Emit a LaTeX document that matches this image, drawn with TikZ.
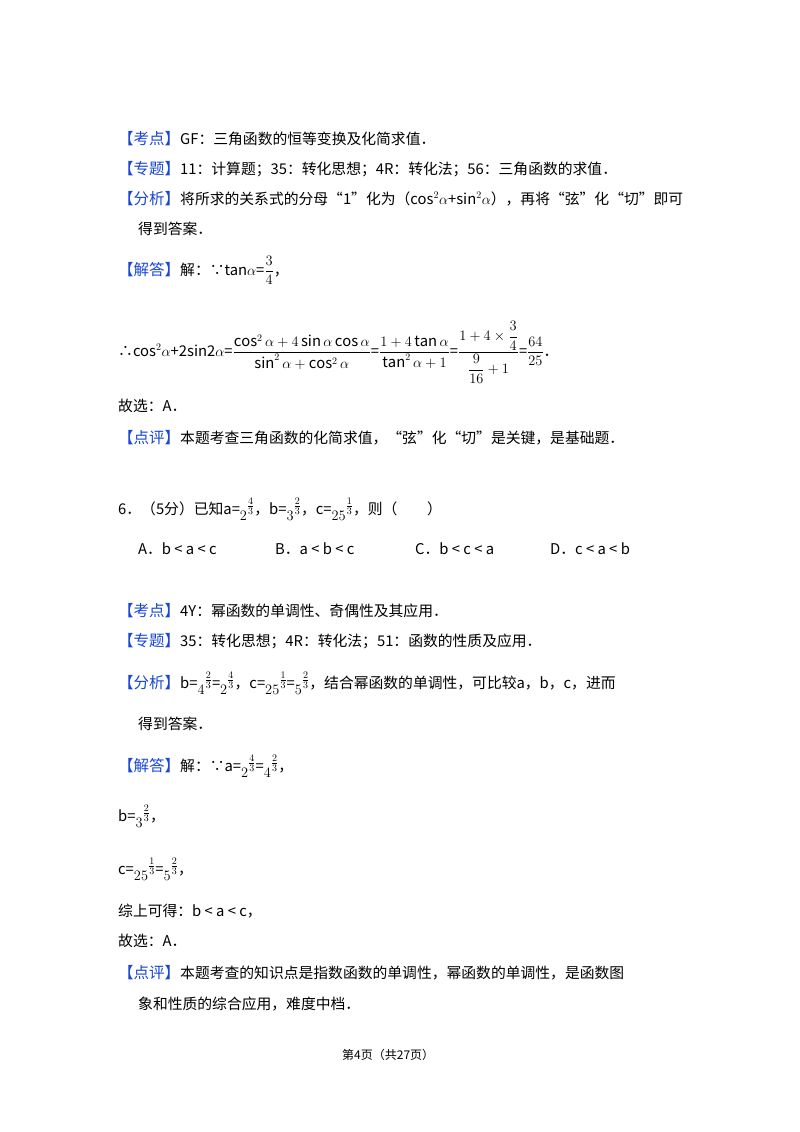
\documentclass[tikz,border=0pt]{standalone}
\usepackage{amsmath}
\usepackage{fontspec}
\setmainfont{Noto Sans CJK SC}
\definecolor{kb}{RGB}{25,70,210}
\newcommand{\tg}[1]{{\color{kb}\fontsize{15.5}{18}\selectfont【#1】}}
\newcommand{\pw}[3]{\raisebox{-6pt}{$#1$}\raisebox{4pt}{$\frac{#2}{#3}$}}
\begin{document}
\begin{tikzpicture}[x=1pt,y=1pt,t/.style={anchor=base west,inner sep=0pt,font=\fontsize{14.8}{17}\selectfont}]
\useasboundingbox (0,0) rectangle (800,-1132);
\fill[white] (0,0) rectangle (800,-1132);
\node[t] (l1) at (118,-144) {\tg{考点}GF：三角函数的恒等变换及化简求值．};
\node[t] (l2) at (118,-174) {\tg{专题}11：计算题；35：转化思想；4R：转化法；56：三角函数的求值．};
\node[t] (l3) at (118,-204) {\tg{分析}将所求的关系式的分母“1”化为（cos$^2\alpha$+sin$^2\alpha$），再将“弦”化“切”即可};
\node[t] (l4) at (138,-234) {得到答案．};
\node[t] (l5) at (118,-275) {\tg{解答}解：∵tan$\alpha$=$\dfrac{3}{4}$，};
\node[t] (l6) at (118,-356) {∴cos$^2\alpha$+2sin2$\alpha$=$\dfrac{\cos^2\alpha+4\sin\alpha\cos\alpha}{\sin^2\alpha+\cos^2\alpha}$=$\dfrac{1+4\tan\alpha}{\tan^2\alpha+1}$=$\dfrac{1+4\times\dfrac{3}{4}}{\dfrac{9}{16}+1}$=$\dfrac{64}{25}$．};
\node[t] (l7) at (118,-411) {故选：A．};
\node[t] (l8) at (118,-443) {\tg{点评}本题考查三角函数的化简求值，“弦”化“切”是关键，是基础题．};
\node[t] (q6) at (118,-514) {6．（5分）已知a=\pw{2}{4}{3}，b=\pw{3}{2}{3}，c=\pw{25}{1}{3}，则（\qquad）};
\node[t] (oA) at (138,-554) {A．b < a < c};
\node[t] (oB) at (275,-554) {B．a < b < c};
\node[t] (oC) at (415,-554) {C．b < c < a};
\node[t] (oD) at (550,-554) {D．c < a < b};
\node[t] (m1) at (118,-616) {\tg{考点}4Y：幂函数的单调性、奇偶性及其应用．};
\node[t] (m2) at (118,-646) {\tg{专题}35：转化思想；4R：转化法；51：函数的性质及应用．};
\node[t] (m3) at (118,-688) {\tg{分析}b=\pw{4}{2}{3}=\pw{2}{4}{3}，c=\pw{25}{1}{3}=\pw{5}{2}{3}，结合幂函数的单调性，可比较a，b，c，进而};
\node[t] (m4) at (138,-729) {得到答案．};
\node[t] (m5) at (118,-771) {\tg{解答}解：∵a=\pw{2}{4}{3}=\pw{4}{2}{3}，};
\node[t] (m6) at (118,-821) {b=\pw{3}{2}{3}，};
\node[t] (m7) at (118,-874) {c=\pw{25}{1}{3}=\pw{5}{2}{3}，};
\node[t] (m8) at (118,-916) {综上可得：b < a < c，};
\node[t] (m9) at (118,-946) {故选：A．};
\node[t] (m10) at (118,-978) {\tg{点评}本题考查的知识点是指数函数的单调性，幂函数的单调性，是函数图};
\node[t] (m11) at (138,-1009) {象和性质的综合应用，难度中档．};
\node[t,font=\fontsize{12}{14}\selectfont] (ft) at (342,-1059) {第4页（共27页）};
\end{tikzpicture}
\end{document}
